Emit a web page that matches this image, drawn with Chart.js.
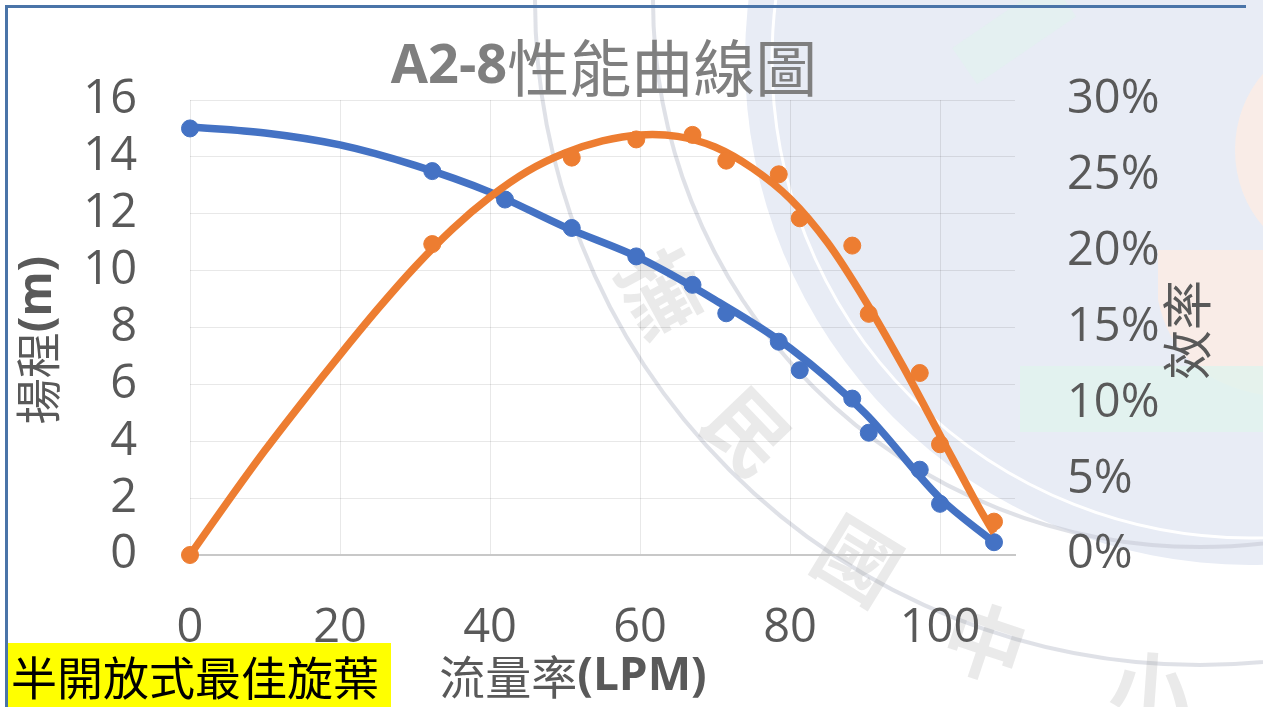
<!DOCTYPE html>
<html>
<head>
<meta charset="utf-8">
<title>A2-8性能曲線圖</title>
<script src="https://cdn.jsdelivr.net/npm/chart.js@4.4.1/dist/chart.umd.min.js"></script>
<style>
  html, body { margin: 0; padding: 0; background: #fff; overflow: hidden; }
  #wrap { position: relative; width: 1263px; height: 707px; }
  #curve { position: absolute; left: 0; top: 0; }
  .edge-top { position: absolute; left: 5px; top: 5px; width: 1241px; height: 3px; background: #4a74a8; }
  .edge-left { position: absolute; left: 5px; top: 5px; width: 3px; height: 702px; background: #4a74a8; }
  .tag {
    position: absolute; left: 8px; top: 643px; width: 383px; height: 64px;
    background: #ffff00; color: #000;
    font: 46px "Noto Sans CJK TC", sans-serif; line-height: 64px;
    padding-left: 3px; box-sizing: border-box; white-space: nowrap;
  }
</style>
</head>
<body>
<div id="wrap">
  <canvas id="curve" width="1263" height="707"></canvas>
  <div class="edge-top"></div>
  <div class="edge-left"></div>
  <div class="tag">半開放式最佳旋葉</div>
</div>
<script>
// measured points: flow (LPM), head (m), efficiency (%)
const flowPts = [0, 32.3, 42, 50.9, 59.5, 67, 71.5, 78.5, 81.3, 88.3, 90.5, 97.3, 100, 107.2];
const headPts = [15.0, 13.5, 12.5, 11.5, 10.5, 9.5, 8.5, 7.5, 6.5, 5.5, 4.3, 3.0, 1.8, 0.45];
const effFlow = [0, 32.3, 50.9, 59.5, 67, 71.5, 78.5, 81.3, 88.3, 90.5, 97.3, 100, 107.2];
const effPts = [0, 20.5, 26.2, 27.4, 27.7, 26.0, 25.1, 22.2, 20.4, 15.9, 12.0, 7.3, 2.2];

// trend curves
const headFlow = [0, 10, 20, 30, 40, 50, 60, 70, 80, 90, 100, 107.2];
const headTrend = [15.05, 14.84, 14.42, 13.7, 12.76, 11.53, 10.44, 8.97, 7.28, 4.99, 2.0, 0.45];
const effTrendFlow = [0, 5, 10, 15, 20, 25, 30, 35, 40, 45, 50, 55, 60, 65, 70, 75, 80, 85, 90, 95, 100, 105, 107.2];
const effTrend = [0, 3.5, 6.9, 10.1, 13.2, 16.2, 19.0, 21.5, 23.6, 25.3, 26.5, 27.3, 27.7, 27.6, 26.9, 25.5, 23.5, 20.6, 16.8, 12.5, 7.9, 3.3, 1.45];

const flowTicks = [0, 20, 40, 60, 80, 100];
const headTicks = [0, 2, 4, 6, 8, 10, 12, 14, 16];
const effTicks = [0, 5, 10, 15, 20, 25, 30];

const BLUE = '#4472c4';
const ORANGE = '#ed7d31';
const LATIN = "'Open Sans', 'Noto Sans CJK TC', sans-serif";
const CJK = "'Noto Sans CJK TC', sans-serif";

const toXY = (xs, ys) => xs.map((x, i) => ({ x: x, y: ys[i] }));

// draws text made of several runs (mixed weight) centred on x,y
function drawRuns(ctx, runs, x, y, angle) {
  ctx.save();
  ctx.translate(x, y);
  ctx.rotate(angle || 0);
  ctx.textBaseline = 'middle';
  ctx.textAlign = 'left';
  let total = 0;
  runs.forEach(r => { ctx.font = r.font; r.w = ctx.measureText(r.text).width; total += r.w; });
  let cx = -total / 2;
  runs.forEach(r => {
    ctx.font = r.font;
    ctx.fillStyle = r.color;
    ctx.fillText(r.text, cx, 0);
    cx += r.w;
  });
  ctx.restore();
}

// school seal backdrop behind the plot
const backdrop = {
  id: 'backdrop',
  beforeDraw(chart) {
    const c = chart.ctx;
    c.save();
    c.fillStyle = '#fff';
    c.fillRect(0, 0, chart.width, chart.height);

    // pale disc and ring
    c.beginPath();
    c.arc(1250, 60, 505, 0, Math.PI * 2);
    c.fillStyle = '#e8ecf5';
    c.fill();
    c.beginPath();
    c.arc(1250, 60, 478, 0, Math.PI * 2);
    c.strokeStyle = '#ffffff';
    c.lineWidth = 3;
    c.stroke();

    // soft coloured patches
    c.fillStyle = 'rgba(253,236,228,0.8)';
    c.beginPath();
    c.ellipse(1335, 150, 100, 110, 0, 0, Math.PI * 2);
    c.fill();
    c.beginPath();
    c.moveTo(1158, 250);
    c.lineTo(1263, 250);
    c.lineTo(1263, 395);
    c.quadraticCurveTo(1175, 380, 1158, 300);
    c.closePath();
    c.fill();
    c.fillStyle = 'rgba(224,244,238,0.8)';
    c.fillRect(1020, 366, 243, 66);
    c.fillStyle = 'rgba(224,244,238,0.5)';
    c.save();
    c.translate(1010, 35);
    c.rotate(-0.6);
    c.fillRect(-55, -22, 120, 44);
    c.restore();

    // outer grey rings
    c.strokeStyle = 'rgba(196,201,212,0.55)';
    c.lineWidth = 4;
    c.beginPath();
    c.arc(1200, 0, 665, 0, Math.PI);
    c.stroke();
    c.beginPath();
    c.arc(1200, 0, 547, 0, Math.PI);
    c.stroke();

    // seal lettering
    const seal = [['撫', 662, 292], ['民', 748, 432], ['國', 858, 560], ['中', 985, 642], ['小', 1150, 690]];
    c.fillStyle = 'rgba(150,150,150,0.2)';
    c.font = "bold 82px 'Noto Sans CJK TC'";
    c.textAlign = 'center';
    c.textBaseline = 'middle';
    seal.forEach(([ch, x, y]) => {
      c.save();
      c.translate(x, y);
      c.rotate(Math.atan2(1200 - x, y));
      c.fillText(ch, 0, 0);
      c.restore();
    });
    c.restore();
  },
  afterDraw(chart) {
    const c = chart.ctx;
    drawRuns(c, [
      { text: 'A2-8', font: 'bold 54px ' + LATIN, color: '#7f7f7f' },
      { text: '性能曲線圖', font: '62px ' + CJK, color: '#7f7f7f' }
    ], 604, 68);
    drawRuns(c, [
      { text: '流量率', font: '46px ' + CJK, color: '#595959' },
      { text: '(LPM)', font: 'bold 46px ' + LATIN, color: '#595959' }
    ], 573, 677);
    drawRuns(c, [
      { text: '揚程', font: '46px ' + CJK, color: '#595959' },
      { text: '(m)', font: 'bold 46px ' + LATIN, color: '#595959' }
    ], 38, 340, -Math.PI / 2);
    drawRuns(c, [
      { text: '效率', font: '50px ' + CJK, color: '#595959' }
    ], 1187, 330, -Math.PI / 2);
  }
};

const tickFont = { family: LATIN, size: 47 };
const gridColor = 'rgba(0,0,0,0.09)';

new Chart(document.getElementById('curve'), {
  type: 'scatter',
  data: {
    datasets: [
      {
        label: '效率',
        data: toXY(effFlow, effPts),
        yAxisID: 'y2',
        backgroundColor: ORANGE,
        borderColor: ORANGE,
        pointRadius: 8.5,
        showLine: false,
        clip: false,
        order: 0
      },
      {
        label: '效率趨勢',
        data: toXY(effTrendFlow, effTrend),
        yAxisID: 'y2',
        borderColor: ORANGE,
        borderWidth: 7.5,
        pointRadius: 0,
        showLine: true,
        tension: 0.3,
        order: 1
      },
      {
        label: '揚程',
        data: toXY(flowPts, headPts),
        yAxisID: 'y',
        backgroundColor: BLUE,
        borderColor: BLUE,
        pointRadius: 8.5,
        showLine: false,
        clip: false,
        order: 2
      },
      {
        label: '揚程趨勢',
        data: toXY(headFlow, headTrend),
        yAxisID: 'y',
        borderColor: BLUE,
        borderWidth: 7.5,
        pointRadius: 0,
        showLine: true,
        cubicInterpolationMode: 'monotone',
        order: 3
      }
    ]
  },
  options: {
    responsive: false,
    animation: false,
    layout: { padding: { top: 100, left: 0, right: 0, bottom: 0 } },
    plugins: {
      legend: { display: false },
      tooltip: { enabled: false }
    },
    scales: {
      x: {
        type: 'linear',
        position: 'bottom',
        min: 0,
        max: 110,
        afterBuildTicks: s => { s.ticks = flowTicks.map(v => ({ value: v })); },
        afterFit: s => { s.height = 152; },
        ticks: { font: tickFont, color: '#595959', padding: 45, maxRotation: 0, autoSkip: false },
        grid: { color: gridColor, drawTicks: false },
        border: { display: true, color: '#c8c8c8', width: 2 }
      },
      y: {
        position: 'left',
        min: 0,
        max: 16,
        afterBuildTicks: s => { s.ticks = headTicks.map(v => ({ value: v })); },
        afterFit: s => { s.width = 190; },
        ticks: { font: tickFont, color: '#595959', padding: 53, autoSkip: false },
        grid: { color: gridColor, drawTicks: false },
        border: { display: false }
      },
      y2: {
        position: 'right',
        min: 0,
        max: 30,
        afterBuildTicks: s => { s.ticks = effTicks.map(v => ({ value: v })); },
        afterFit: s => { s.width = 248; },
        ticks: { font: tickFont, color: '#595959', padding: 52, autoSkip: false, callback: v => v + '%' },
        grid: { drawOnChartArea: false, drawTicks: false },
        border: { display: false }
      }
    }
  },
  plugins: [backdrop]
});
</script>
</body>
</html>
